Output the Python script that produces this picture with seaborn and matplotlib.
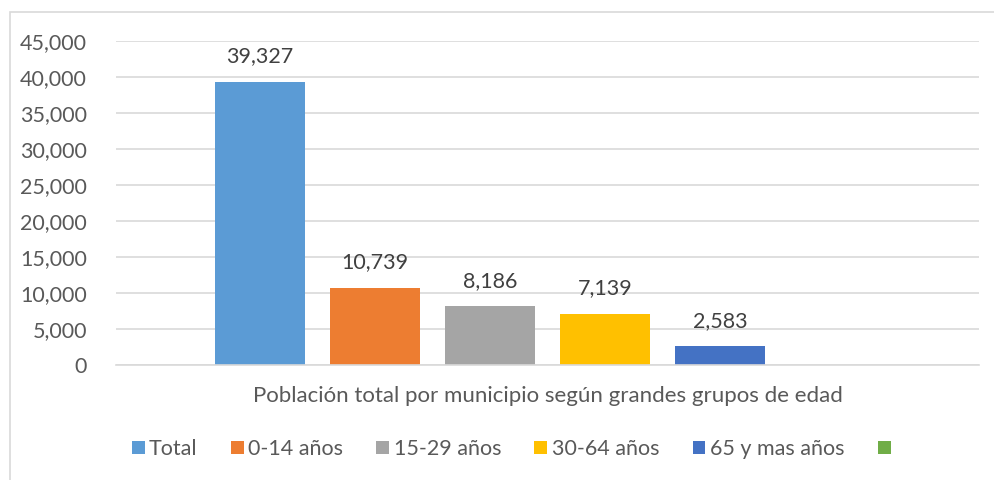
"""
Población total por municipio según grandes grupos de edad - bar chart.
"""

import matplotlib
matplotlib.use("Agg")
import matplotlib.pyplot as plt
from matplotlib.patches import Rectangle
import pandas as pd
import seaborn as sns

CATEGORY = "Población total por municipio según grandes grupos de edad"
SERIES = ["Total", "0-14 años", "15-29 años", "30-64 años", "65 y mas años", " "]
VALUES = [39327, 10739, 8186, 7139, 2583, 0]
COLORS = ["#5b9bd5", "#ed7d31", "#a5a5a5", "#ffc000", "#4472c4", "#70ad47"]
Y_TICKS = [0, 5000, 10000, 15000, 20000, 25000, 30000, 35000, 40000, 45000]

TEXT = "#595959"

sns.set_theme(style="white")
plt.rcParams["font.family"] = ["Lato", "DejaVu Sans"]

df = pd.DataFrame({
    "grupo": [CATEGORY] * len(SERIES),
    "serie": SERIES,
    "poblacion": VALUES,
})

fig = plt.figure(figsize=(9.95, 4.8), dpi=100)
ax = fig.add_axes([116 / 995, 1 - 365 / 480, 863 / 995, 324 / 480])

sns.barplot(
    data=df, x="grupo", y="poblacion", hue="serie",
    hue_order=SERIES, palette=COLORS, width=0.8, gap=0.22,
    saturation=1, linewidth=0, ax=ax, legend=True,
)

#  Data labels (skip the empty series)
for cont in ax.containers:
    labels = [f"{v:,.0f}" if v > 0 else "" for v in cont.datavalues]
    ax.bar_label(cont, labels=labels, padding=11, fontsize=15.5, color="#404040")

#  Axes styling
ax.set_ylim(0, 45000)
ax.set_xlim(-0.5, 0.5)
ax.set_yticks(Y_TICKS)
ax.set_yticklabels([f"{t:,}" for t in Y_TICKS])
ax.yaxis.grid(True, color="#d9d9d9", linewidth=1.2)
ax.set_axisbelow(True)
for side in ["top", "right", "left"]:
    ax.spines[side].set_visible(False)
ax.spines["bottom"].set_color("#d9d9d9")
ax.spines["bottom"].set_linewidth(1.2)
ax.tick_params(axis="y", length=0, pad=21, labelsize=15.5, labelcolor=TEXT)
ax.tick_params(axis="x", length=0, pad=15, labelsize=16, labelcolor=TEXT)
ax.set_xlabel("")
ax.set_ylabel("")

#  Legend at the bottom
handles, labels = ax.get_legend_handles_labels()
ax.get_legend().remove()
fig.legend(
    handles, labels, loc="center", bbox_to_anchor=(516 / 995, 1 - 449 / 480),
    ncol=6, frameon=False, fontsize=15.5, labelcolor=TEXT,
    handlelength=0.6, handleheight=0.6, handletextpad=0.2, columnspacing=1.55,
)

#  Chart frame
fig.patches.append(Rectangle(
    (10 / 995, -0.1), 1.2, 1 - 12 / 480 + 0.1, transform=fig.transFigure,
    fill=False, edgecolor="#d9d9d9", linewidth=1.2,
))

fig.savefig("out.png", dpi=100)
plt.close(fig)
